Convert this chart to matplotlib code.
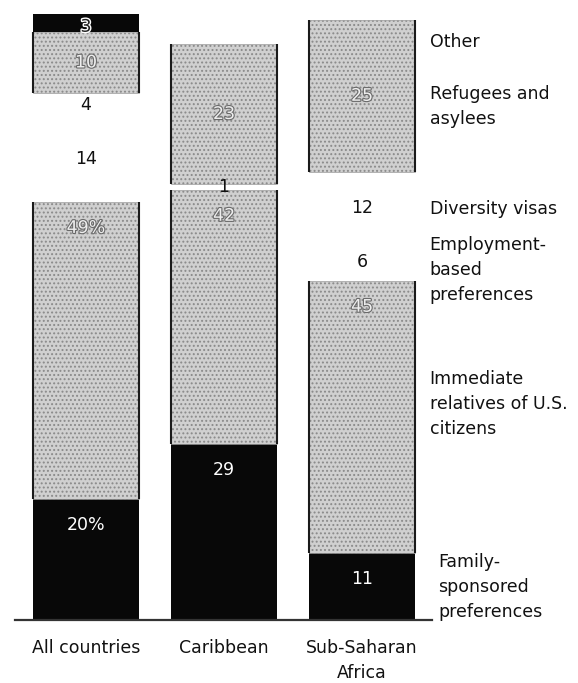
import matplotlib.pyplot as plt
import matplotlib.patheffects as pe
import numpy as np

plt.rcParams['font.family'] = ['DejaVu Sans']
plt.rcParams['hatch.color'] = '#6e6e6e'
plt.rcParams['hatch.linewidth'] = 0.9

categories = ['All countries', 'Caribbean', 'Sub-Saharan\nAfrica']
family = [20, 29, 11]
immediate = [49, 42, 45]
employment = [14, 0, 6]
diversity = [4, 1, 12]
refugees = [10, 23, 25]
other = [3, 0, 0]

family_lbl = ['20%', '29', '11']
immediate_lbl = ['49%', '42', '45']
employment_lbl = ['14', '', '6']
diversity_lbl = ['4', '1', '12']
refugees_lbl = ['10', '23', '25']
other_lbl = ['3', '', '']

legend_names = ['Family-\nsponsored\npreferences',
                'Immediate\nrelatives of U.S.\ncitizens',
                'Employment-\nbased\npreferences',
                'Diversity visas',
                'Refugees and\nasylees',
                'Other']

W, H = 578, 683
fig = plt.figure(figsize=(W / 100, H / 100), dpi=100)
ax = fig.add_axes([15 / W, (H - 620) / H, (432 - 15) / W, 606 / H])

x = np.arange(len(categories))
width = 0.77
fs = 12.5

series = [family, immediate, employment, diversity, refugees, other]
labels = [family_lbl, immediate_lbl, employment_lbl, diversity_lbl, refugees_lbl, other_lbl]
styles = ['black', 'gray', 'white', 'white', 'gray', 'black']

outline = [pe.withStroke(linewidth=1.6, foreground='#6a6a6a')]
halo = [pe.withStroke(linewidth=2, foreground='white')]

bottom = np.zeros(len(categories))
for k, (vals, lbls, st) in enumerate(zip(series, labels, styles)):
    vals = np.array(vals, dtype=float)
    if st == 'black':
        ax.bar(x, vals, width, bottom=bottom, color='#080808', linewidth=0)
    elif st == 'gray':
        bars = ax.bar(x, vals, width, bottom=bottom, color='#d0d0d0', hatch='....',
                      edgecolor='#8a8a8a', linewidth=0.4)
        # dark left/right edges of the stippled blocks
        for b in bars:
            if b.get_height() > 0:
                ax.vlines([b.get_x(), b.get_x() + b.get_width()], b.get_y(),
                          b.get_y() + b.get_height(), color='#1a1a1a',
                          linewidth=1.5, zorder=3)
    else:
        ax.bar(x, vals, width, bottom=bottom, color='white', linewidth=0)
    for i in range(len(categories)):
        if not lbls[i]:
            continue
        if k < 2:
            yy = bottom[i] + vals[i] - 4.3
        else:
            yy = bottom[i] + vals[i] / 2
        if st == 'gray':
            ax.text(x[i], yy, lbls[i], ha='center', va='center', fontsize=fs,
                    color='#eeeeee', path_effects=outline)
        elif st == 'black' and k == 0:
            ax.text(x[i], yy, lbls[i], ha='center', va='center', fontsize=fs,
                    color='white')
        elif st == 'black':
            ax.text(x[i], yy - 0.6, lbls[i], ha='center', va='center', fontsize=fs,
                    color='#222222', path_effects=halo)
        else:
            ax.text(x[i], yy, lbls[i], ha='center', va='center', fontsize=fs,
                    color='#111111')
    bottom += vals

# labels for the segments, beside the last bar
legend_y = [5.5, 35.6, 57.8, 67.8, 84.8, 95.4]
legend_x = [2.55, 2.49, 2.49, 2.49, 2.49, 2.49]
for name, yy, xx in zip(legend_names, legend_y, legend_x):
    ax.text(xx, yy, name, ha='left', va='center', fontsize=fs, color='#111111',
            linespacing=1.5, clip_on=False)

ax.set_xlim(-0.514, 2.507)
ax.set_ylim(0, 100)
ax.set_xticks(x)
ax.set_xticklabels(categories, fontsize=fs, color='#111111', linespacing=1.5)
ax.tick_params(axis='x', length=0, pad=14)
ax.set_yticks([])
for s in ['top', 'right', 'left']:
    ax.spines[s].set_visible(False)
ax.spines['bottom'].set_color('#333333')
ax.spines['bottom'].set_linewidth(1.6)

plt.savefig('out.png', dpi=100)
